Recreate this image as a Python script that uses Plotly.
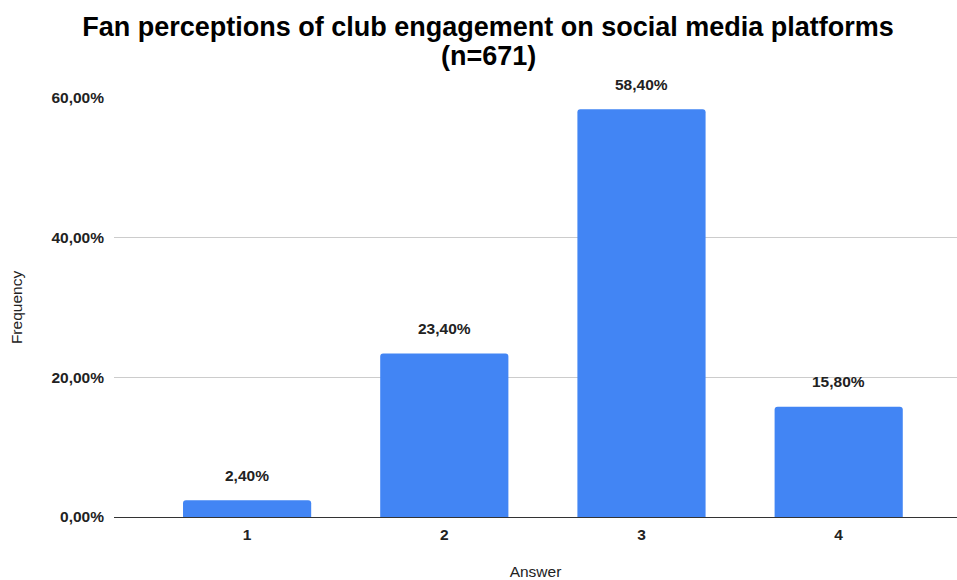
import plotly.graph_objects as go

categories = ["1", "2", "3", "4"]
values = [0.024, 0.234, 0.584, 0.158]
y_ticks = [0, 0.2, 0.4, 0.6]
title_line1 = "Fan perceptions of club engagement on social media platforms"
title_line2 = "(n=671)"

FONT = "Liberation Sans, Arial, sans-serif"
labels = [f"{v*100:.2f}".replace(".", ",") + "%" for v in values]

W, H = 957, 580
ML, MR, MT, MB = 114, 0, 98, 63
TITLE_CX = 488
FS = 15.5

fig = go.Figure()
fig.add_trace(go.Bar(
    x=categories, y=values,
    marker=dict(color="#4285F4", cornerradius=3, line=dict(width=0)),
    width=0.65,
    hoverinfo="skip",
))

for i, (v, t) in enumerate(zip(values, labels)):
    fig.add_annotation(x=i, y=v, xref="x", yref="y", text=f"<b>{t}</b>",
                       showarrow=False, yanchor="middle", yshift=25,
                       font=dict(family=FONT, size=FS, color="#222222"))

plot_w = W - ML - MR
plot_h = H - MT - MB
fig.add_annotation(x=(TITLE_CX - ML) / plot_w, y=(H - MB - 56) / plot_h,
                   xref="paper", yref="paper",
                   text=f"<b>{title_line2}</b>", showarrow=False,
                   xanchor="center", yanchor="middle",
                   font=dict(family=FONT, size=27, color="#000000"))

fig.update_layout(
    width=W, height=H,
    margin=dict(l=ML, r=MR, t=MT, b=MB),
    paper_bgcolor="white", plot_bgcolor="white",
    separators=",.",
    showlegend=False,
    title=dict(
        text=f"<b>{title_line1}</b>",
        x=TITLE_CX / W, xanchor="center", y=1 - 27 / H, yanchor="middle",
        font=dict(family=FONT, size=27, color="#000000"),
    ),
    xaxis=dict(
        type="category", range=[-0.675, 3.6], automargin=False,
        showgrid=False, showline=False, zeroline=False,
        ticks="", ticklabelstandoff=6,
        tickfont=dict(family=FONT, size=FS, color="#222222", weight="bold"),
        title=dict(text="Answer", standoff=33,
                   font=dict(family=FONT, size=FS, color="#222222")),
    ),
    yaxis=dict(
        range=[0, 0.6], tickvals=y_ticks, tickformat=".2%", automargin=False,
        showgrid=True, gridcolor="#cccccc", gridwidth=1,
        zeroline=True, zerolinecolor="#333333", zerolinewidth=1,
        showline=False, ticks="", ticklabelstandoff=9,
        tickfont=dict(family=FONT, size=FS, color="#222222", weight="bold"),
        title=dict(text="Frequency", standoff=24,
                   font=dict(family=FONT, size=FS, color="#222222")),
    ),
)

fig.write_html("out.html")
